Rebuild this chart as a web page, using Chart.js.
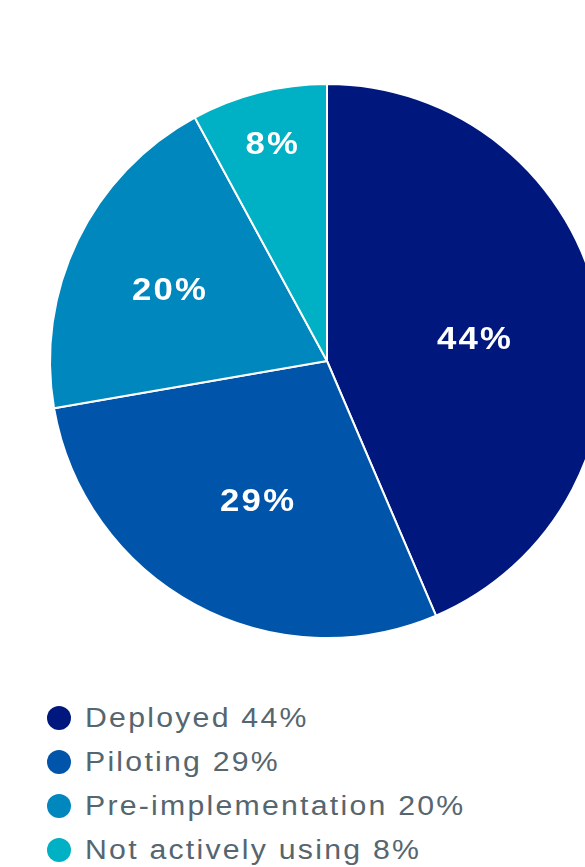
<!DOCTYPE html>
<html>
<head>
<meta charset="utf-8">
<script src="https://cdn.jsdelivr.net/npm/chart.js@4/dist/chart.umd.min.js"></script>
<style>
  html, body { margin: 0; padding: 0; background: #ffffff; width: 585px; height: 867px; overflow: hidden; }
  #wrap { position: absolute; left: 0; top: 0; width: 585px; height: 680px; }
  #legend { position: absolute; left: 47px; top: 696px; margin: 0; padding: 0; list-style: none;
            font-family: "Liberation Sans", Arial, sans-serif; font-size: 27px; color: #56666f; letter-spacing: 2px; }
  #legend li { display: flex; align-items: center; height: 44px; white-space: nowrap; }
  #legend .dot { width: 24px; height: 24px; border-radius: 50%; margin-right: 14px; flex: none; }
  #legend .txt { display: inline-block; transform: scaleX(1.12); transform-origin: left center; }
</style>
</head>
<body>
<div id="wrap"><canvas id="pie"></canvas></div>
<ul id="legend"></ul>
<script>
// Adoption status shares (percent)
const categories = ['Deployed', 'Piloting', 'Pre-implementation', 'Not actively using'];
const shares = [44, 29, 20, 8];
const sliceColors = ['#00187d', '#0055aa', '#0088be', '#00b0c4'];

// Where each percentage sits inside its slice: fraction of the radius and a small angle nudge (deg)
const labelPlacement = [
  { r: 0.537, nudge: 2.7 },
  { r: 0.562, nudge: -1.8 },
  { r: 0.627, nudge: -1.3 },
  { r: 0.812, nudge: 0 }
];

const sliceLabels = {
  id: 'sliceLabels',
  afterDatasetsDraw(chart) {
    const ctx = chart.ctx;
    const meta = chart.getDatasetMeta(0);
    const fontSize = 31;
    const spacing = 2;
    const stretch = 1.12;
    meta.data.forEach((arc, i) => {
      const p = arc.getProps(['x', 'y', 'startAngle', 'endAngle', 'outerRadius'], true);
      const place = labelPlacement[i];
      const a = (p.startAngle + p.endAngle) / 2 + place.nudge * Math.PI / 180;
      const cx = p.x + Math.cos(a) * p.outerRadius * place.r;
      const cy = p.y + Math.sin(a) * p.outerRadius * place.r;
      const text = shares[i] + '%';
      ctx.save();
      ctx.font = 'bold ' + fontSize + 'px "Liberation Sans", Arial, sans-serif';
      ctx.fillStyle = '#ffffff';
      ctx.textAlign = 'left';
      ctx.textBaseline = 'alphabetic';
      const hasSpacing = 'letterSpacing' in ctx;
      if (hasSpacing) ctx.letterSpacing = spacing + 'px';
      const w = ctx.measureText(text).width - (hasSpacing ? spacing : 0);
      ctx.translate(cx, cy);
      ctx.scale(stretch, 1);
      ctx.fillText(text, -w / 2, fontSize * 0.716 / 2);
      ctx.restore();
    });
  }
};

new Chart(document.getElementById('pie'), {
  type: 'pie',
  data: {
    labels: categories,
    datasets: [{
      data: shares,
      backgroundColor: sliceColors,
      borderColor: '#ffffff',
      borderWidth: 2,
      hoverOffset: 0
    }]
  },
  options: {
    responsive: true,
    maintainAspectRatio: false,
    animation: false,
    radius: 277,
    layout: { padding: { left: 69, right: 0, top: 42, bottom: 0 } },
    events: [],
    plugins: {
      legend: { display: false },
      tooltip: { enabled: false }
    }
  },
  plugins: [sliceLabels]
});

// Legend list below the pie
const legend = document.getElementById('legend');
categories.forEach((name, i) => {
  const li = document.createElement('li');
  const dot = document.createElement('span');
  dot.className = 'dot';
  dot.style.background = sliceColors[i];
  const label = document.createElement('span');
  label.className = 'txt';
  label.textContent = name + ' ' + shares[i] + '%';
  li.appendChild(dot);
  li.appendChild(label);
  legend.appendChild(li);
});
</script>
</body>
</html>
